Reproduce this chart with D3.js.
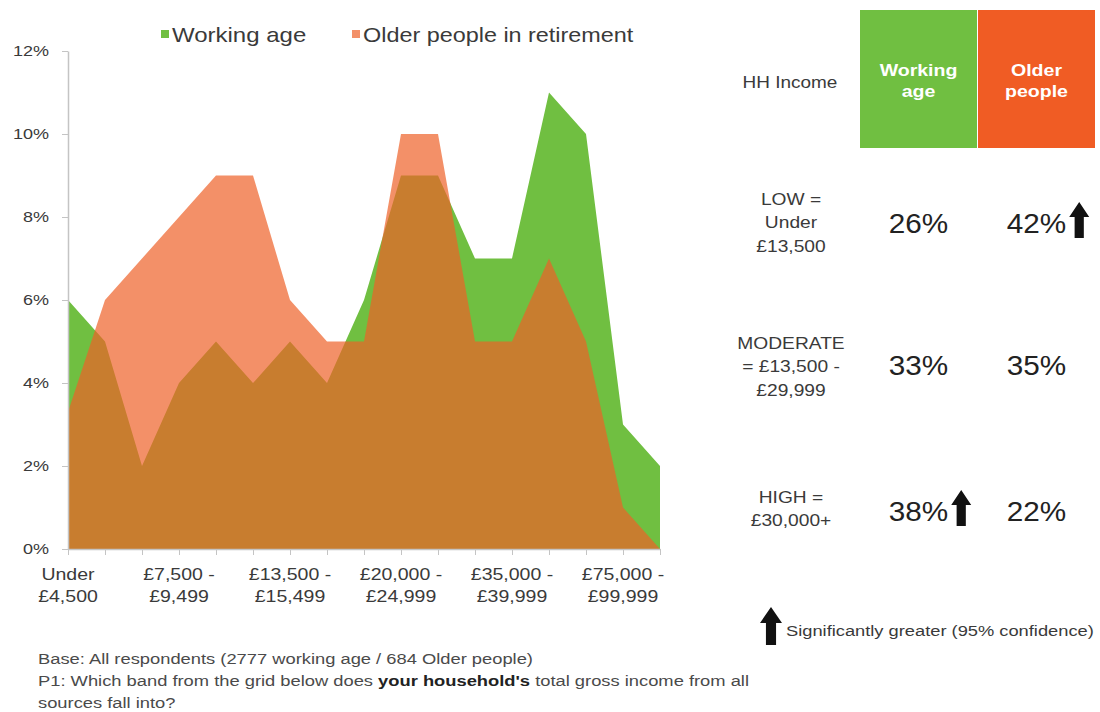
<!DOCTYPE html>
<html>
<head>
<meta charset="utf-8">
<script src="https://cdn.jsdelivr.net/npm/d3@7"></script>
<style>
  body { margin: 0; background: #fff; }
  svg { display: block; font-family: "Liberation Sans", Arial, Helvetica, sans-serif; }
</style>
</head>
<body>
<svg id="chart" width="1100" height="712"></svg>
<script>
// Household income bands (x axis), two-line labels
const categories = [
  ["Under", "£4,500"], ["£4,500 -", "£5,999"], ["£6,000 -", "£7,499"], ["£7,500 -", "£9,499"],
  ["£9,500 -", "£11,499"], ["£11,500 -", "£13,499"], ["£13,500 -", "£15,499"], ["£15,500 -", "£17,499"],
  ["£17,500 -", "£19,999"], ["£20,000 -", "£24,999"], ["£25,000 -", "£29,999"], ["£30,000 -", "£34,999"],
  ["£35,000 -", "£39,999"], ["£40,000 -", "£49,999"], ["£50,000 -", "£74,999"], ["£75,000 -", "£99,999"],
  ["£100,000+", ""]
];
const labelledBands = [0, 3, 6, 9, 12, 15];

// Share of respondents in each band (%)
const workingAge  = [6, 5, 2, 4, 5, 4, 5, 4, 6, 9, 9, 7, 7, 11, 10, 3, 2];
const olderPeople = [3.3, 6, 7, 8, 9, 9, 6, 5, 5, 10, 10, 5, 5, 7, 5, 1, 0];

const yTicks = [0, 2, 4, 6, 8, 10, 12];
const seriesNames = ["Working age", "Older people in retirement"];

// Summary table
const headerLabels = [["Working", "age"], ["Older", "people"]];
const bandGroups = [["LOW =", "Under", "£13,500"], ["MODERATE", "= £13,500 -", "£29,999"], ["HIGH =", "£30,000+"]];
const groupWorking = [26, 33, 38];
const groupOlder = [42, 35, 22];
const groupWorkingSig = [false, false, true];
const groupOlderSig = [true, false, false];

const footnoteLines = [
  [{ t: "Base: All respondents (2777 working age / 684 Older people)" }],
  [{ t: "P1: Which band from the grid below does " }, { t: "your household's", b: true }, { t: " total gross income from all" }],
  [{ t: "sources fall into?" }]
];
const significanceNote = "Significantly greater (95% confidence)";

// ---- styling ----
const GREEN = "#70bf41";
const ORANGE = "#ee6128";
const HEAD_ORANGE = "#f05c24";
const TEXT = "#3a3a3a";
const AXIS = "#c4c4c4";
const SX = 1.2; // horizontal text stretch

const svg = d3.select("#chart");

function addText(parent, x, y, lines, o = {}) {
  const t = parent.append("text")
    .attr("transform", `translate(${x},${y}) scale(${o.sx || SX},1)`)
    .attr("text-anchor", o.anchor || "start")
    .attr("font-size", o.size || 15)
    .attr("font-weight", o.weight || "normal")
    .attr("fill", o.fill || TEXT);
  const arr = Array.isArray(lines) ? lines : [lines];
  arr.forEach((s, i) => {
    t.append("tspan").attr("x", 0).attr("dy", i === 0 ? 0 : (o.lh || 20)).text(s);
  });
  return t;
}

function upArrow(parent, cx, top, w, h) {
  const hh = h * 0.42, sw = w * 0.46;
  const p = d3.path();
  p.moveTo(cx, top);
  p.lineTo(cx + w / 2, top + hh);
  p.lineTo(cx + sw / 2, top + hh);
  p.lineTo(cx + sw / 2, top + h);
  p.lineTo(cx - sw / 2, top + h);
  p.lineTo(cx - sw / 2, top + hh);
  p.lineTo(cx - w / 2, top + hh);
  p.closePath();
  parent.append("path").attr("d", p.toString()).attr("fill", "#111");
}

// ---- area chart ----
const x = d3.scalePoint().domain(d3.range(categories.length)).range([68, 660]);
const y = d3.scaleLinear().domain([0, 12]).range([549, 51]);

const area = d3.area()
  .x((d, i) => x(i))
  .y0(y(0))
  .y1(d => y(d));

const plot = svg.append("g");
plot.append("path").datum(workingAge).attr("d", area).attr("fill", GREEN);
plot.append("path").datum(olderPeople).attr("d", area).attr("fill", ORANGE).attr("fill-opacity", 0.7);

// y axis
const yAxisG = svg.append("g")
  .attr("transform", `translate(${x(0)},0)`)
  .call(d3.axisLeft(y).tickValues(yTicks).tickFormat(d => d + "%").tickSize(6).tickSizeOuter(0));
yAxisG.select(".domain").attr("stroke", AXIS).attr("stroke-width", 1.5);
yAxisG.selectAll(".tick line").attr("stroke", AXIS);
yAxisG.selectAll(".tick text")
  .attr("font-size", 15)
  .attr("font-family", null)
  .attr("fill", TEXT)
  .attr("x", -19 / SX)
  .attr("transform", `scale(${SX},1)`);
yAxisG.attr("font-family", null).attr("font-size", null);

// x axis
const xAxisG = svg.append("g")
  .attr("transform", `translate(0,${y(0)})`)
  .call(d3.axisBottom(x).tickSize(6).tickSizeOuter(0).tickFormat(""));
xAxisG.select(".domain").attr("stroke", AXIS).attr("stroke-width", 1.5);
xAxisG.selectAll(".tick line").attr("stroke", AXIS);
labelledBands.forEach(i => {
  addText(svg, x(i), 580, categories[i], { anchor: "middle", size: 16, sx: 1.22, lh: 22 });
});

// legend
const legendX = [161, 352];
seriesNames.forEach((name, i) => {
  svg.append("rect").attr("x", legendX[i]).attr("y", 30).attr("width", 8).attr("height", 8)
    .attr("fill", i === 0 ? GREEN : ORANGE).attr("fill-opacity", i === 0 ? 1 : 0.7);
  addText(svg, legendX[i] + 11, 42, name, { size: 20, sx: i === 0 ? 1.2 : 1.17 });
});

// ---- summary table ----
const table = svg.append("g");
const colX = [918.5, 1036.5];
const colW = 117;
table.append("rect").attr("x", colX[0] - colW / 2).attr("y", 10).attr("width", colW).attr("height", 138).attr("fill", GREEN);
table.append("rect").attr("x", colX[1] - colW / 2).attr("y", 10).attr("width", colW).attr("height", 138).attr("fill", HEAD_ORANGE);
headerLabels.forEach((lab, i) => {
  addText(table, colX[i], 76, lab, { anchor: "middle", size: 17, weight: "bold", sx: 1.15, fill: "#fff", lh: 21 });
});
addText(table, 790, 88, "HH Income", { anchor: "middle", size: 16.5, sx: 1.15 });

const labelY = [205, 349, 503];
const valueY = [233, 375, 521];
bandGroups.forEach((lines, r) => {
  addText(table, 791, labelY[r], lines, { anchor: "middle", size: 16, sx: 1.2, lh: 23.5 });
  [[groupWorking, groupWorkingSig], [groupOlder, groupOlderSig]].forEach(([vals, sig], c) => {
    const t = addText(table, colX[c], valueY[r], vals[r] + "%", { anchor: "middle", size: 27, sx: 1.1, fill: "#222" });
    if (sig[r]) {
      const half = t.node().getComputedTextLength() * 1.1 / 2;
      upArrow(table, colX[c] + half + 13, valueY[r] - 31, 20, 36);
    }
  });
});

upArrow(svg, 771, 607, 22, 38);
addText(svg, 786, 636, significanceNote, { size: 15.5, sx: 1.18 });

// ---- footnote ----
footnoteLines.forEach((parts, i) => {
  const t = svg.append("text")
    .attr("transform", `translate(38,${664 + i * 22}) scale(1.31,1)`)
    .attr("font-size", 14)
    .attr("fill", "#4a4a4a");
  parts.forEach(p => {
    t.append("tspan").attr("font-weight", p.b ? "bold" : "normal").attr("fill", p.b ? "#222" : "#4a4a4a").text(p.t);
  });
});
</script>
</body>
</html>
